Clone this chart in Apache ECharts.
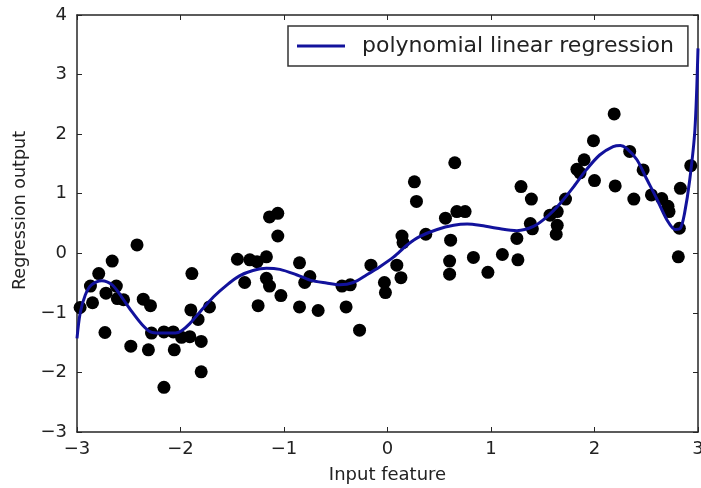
<!DOCTYPE html>
<html>
<head>
<meta charset="utf-8">
<script src="https://cdn.jsdelivr.net/npm/echarts@6/dist/echarts.min.js"></script>
<style>
  html, body { margin: 0; padding: 0; background: #fff; }
  #chart { width: 701px; height: 488px; }
</style>
</head>
<body>
<div id="chart"></div>
<script>
// data points
var pointX = [-2.97, -2.87, -2.85, -2.79, -2.73, -2.72, -2.66, -2.62, -2.61, -2.55,
  -2.42, -2.48, -2.36, -2.29, -2.31, -2.28, -2.16, -2.07, -2.16, -2.06,
  -1.99, -1.91, -1.89, -1.90, -1.83, -1.80, -1.80, -1.72, -1.45, -1.38,
  -1.33, -1.26, -1.17, -1.25, -1.17, -1.14, -1.14, -1.06, -1.06, -1.03,
  -0.85, -0.85, -0.80, -0.75, -0.67, -0.44, -0.36, -0.40, -0.27, -0.16,
  -0.03, -0.02, 0.09, 0.13, 0.14, 0.15, 0.26, 0.28, 0.37, 0.56,
  0.61, 0.60, 0.60, 0.65, 0.67, 0.75, 0.83, 0.97, 1.11, 1.26,
  1.25, 1.29, 1.39, 1.38, 1.40, 1.57, 1.64, 1.64, 1.63, 1.72,
  1.83, 1.86, 1.90, 1.99, 2.00, 2.19, 2.20, 2.34, 2.38, 2.47,
  2.55, 2.65, 2.71, 2.72, 2.81, 2.82, 2.83, 2.93]
var pointY = [-0.91, -0.55, -0.83, -0.34, -1.33, -0.67, -0.13, -0.55, -0.76, -0.78,
  0.14, -1.56, -0.77, -0.88, -1.62, -1.34, -1.32, -1.32, -2.25, -1.62,
  -1.41, -1.40, -0.34, -0.95, -1.11, -1.48, -1.99, -0.90, -0.10, -0.49,
  -0.11, -0.14, -0.06, -0.88, -0.42, -0.55, 0.61, 0.67, 0.29, -0.71,
  -0.16, -0.90, -0.49, -0.39, -0.96, -0.55, -0.53, -0.90, -1.29, -0.20,
  -0.49, -0.66, -0.20, -0.41, 0.29, 0.18, 1.20, 0.87, 0.32, 0.59,
  0.22, -0.13, -0.35, 1.52, 0.70, 0.70, -0.07, -0.32, -0.02, -0.11,
  0.25, 1.12, 0.91, 0.50, 0.41, 0.64, 0.70, 0.47, 0.32, 0.91,
  1.41, 1.35, 1.57, 1.89, 1.22, 2.34, 1.13, 1.71, 0.91, 1.40,
  0.98, 0.92, 0.79, 0.70, -0.06, 0.42, 1.09, 1.47]

// regression curve
var curveX = [-3.00, -2.97, -2.92, -2.86, -2.76, -2.66, -2.57, -2.47, -2.37, -2.29,
  -2.20, -2.05, -1.99, -1.91, -1.81, -1.68, -1.55, -1.43, -1.30, -1.17,
  -1.04, -0.88, -0.75, -0.59, -0.46, -0.33, -0.20, -0.07, 0.06, 0.19,
  0.31, 0.48, 0.64, 0.77, 0.89, 1.06, 1.25, 1.41, 1.54, 1.67,
  1.80, 1.92, 2.05, 2.18, 2.25, 2.31, 2.41, 2.50, 2.60, 2.70,
  2.78, 2.83, 2.87, 2.92, 2.97, 3.00]
var curveY = [-1.43, -1.01, -0.70, -0.53, -0.46, -0.53, -0.73, -0.98, -1.20, -1.32,
  -1.34, -1.34, -1.30, -1.18, -0.98, -0.73, -0.53, -0.38, -0.29, -0.25,
  -0.27, -0.36, -0.45, -0.50, -0.53, -0.49, -0.36, -0.22, -0.06, 0.14,
  0.28, 0.40, 0.47, 0.49, 0.47, 0.42, 0.38, 0.45, 0.61, 0.84,
  1.12, 1.40, 1.65, 1.79, 1.81, 1.76, 1.57, 1.26, 0.92, 0.56,
  0.40, 0.42, 0.67, 1.23, 2.07, 3.44]

var xTicks = [-3, -2, -1, 0, 1, 2, 3]
var yTicks = [-3, -2, -1, 0, 1, 2, 3, 4]

var minus = function (v) { return String(v).replace('-', '\u2212') }

var scatterData = []
for (var i = 0; i < pointX.length; i++) {
  scatterData.push([pointX[i], pointY[i]])
}
var curveData = []
for (var j = 0; j < curveX.length; j++) {
  curveData.push([curveX[j], curveY[j]])
}

var frame = '#262626'
var font = 'DejaVu Sans'

var chart = echarts.init(document.getElementById('chart'))
chart.setOption({
  backgroundColor: '#fff',
  animation: false,
  textStyle: { fontFamily: font },
  grid: { left: 77, right: 3, top: 15, bottom: 56, containLabel: false, outerBoundsMode: 'none' },
  legend: {
    data: [{ name: 'polynomial linear regression', icon: 'rect' }],
    left: 288,
    top: 26,
    padding: [9, 14, 9, 9],
    itemWidth: 48,
    itemHeight: 3,
    borderColor: '#333',
    borderWidth: 1.5,
    backgroundColor: '#fff',
    textStyle: { fontFamily: font, fontSize: 22, color: '#222', padding: [0, 0, 0, 12] }
  },
  xAxis: [{
    type: 'value',
    min: xTicks[0],
    max: xTicks[xTicks.length - 1],
    interval: 1,
    name: 'Input feature',
    nameLocation: 'middle',
    nameGap: 34,
    nameTextStyle: { fontFamily: font, fontSize: 18, color: '#222' },
    axisLine: { show: true, onZero: false, lineStyle: { color: frame, width: 1.5 } },
    axisTick: { show: true, inside: true, length: 5, lineStyle: { color: frame } },
    axisLabel: { fontFamily: font, fontSize: 18, color: '#222', margin: 8, formatter: minus },
    splitLine: { show: false }
  }, {
    type: 'value',
    position: 'top',
    min: xTicks[0],
    max: xTicks[xTicks.length - 1],
    interval: 1,
    axisLine: { show: true, onZero: false, lineStyle: { color: frame, width: 1.5 } },
    axisTick: { show: true, inside: true, length: 5, lineStyle: { color: frame } },
    axisLabel: { show: false },
    splitLine: { show: false }
  }],
  yAxis: [{
    type: 'value',
    min: yTicks[0],
    max: yTicks[yTicks.length - 1],
    interval: 1,
    name: 'Regression output',
    nameLocation: 'middle',
    nameGap: 43,
    nameTextStyle: { fontFamily: font, fontSize: 17.5, color: '#222', padding: [0, 0, 0, 26] },
    axisLine: { show: true, onZero: false, lineStyle: { color: frame, width: 1.5 } },
    axisTick: { show: true, inside: true, length: 5, lineStyle: { color: frame } },
    axisLabel: { fontFamily: font, fontSize: 18, color: '#222', margin: 10, formatter: minus },
    splitLine: { show: false }
  }, {
    type: 'value',
    position: 'right',
    min: yTicks[0],
    max: yTicks[yTicks.length - 1],
    interval: 1,
    axisLine: { show: true, onZero: false, lineStyle: { color: frame, width: 1.5 } },
    axisTick: { show: true, inside: true, length: 5, lineStyle: { color: frame } },
    axisLabel: { show: false },
    splitLine: { show: false }
  }],
  series: [{
    name: 'points',
    type: 'scatter',
    data: scatterData,
    symbolSize: 13,
    itemStyle: { color: '#000', opacity: 1 },
    z: 2
  }, {
    name: 'polynomial linear regression',
    type: 'line',
    data: curveData,
    smooth: 0.3,
    showSymbol: false,
    symbol: 'none',
    lineStyle: { color: '#12129c', width: 3 },
    itemStyle: { color: '#12129c' },
    z: 3
  }]
})
</script>
</body>
</html>
